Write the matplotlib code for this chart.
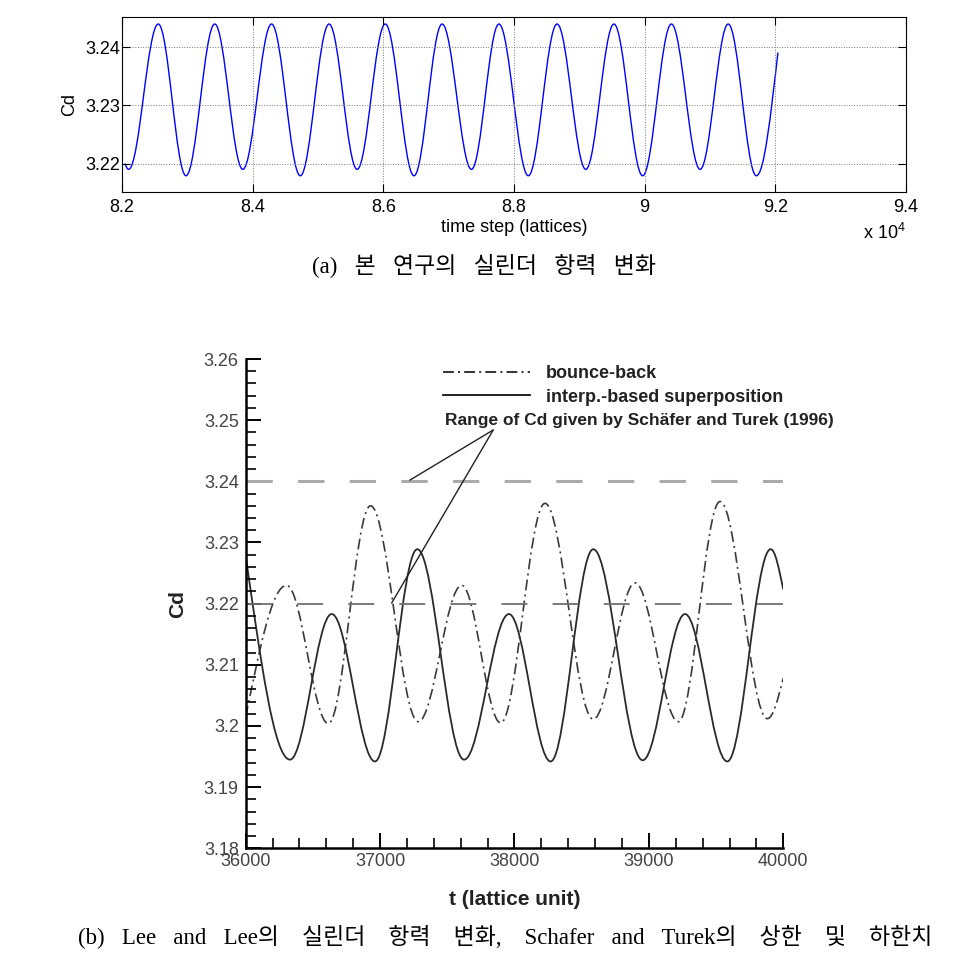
import matplotlib
matplotlib.use('Agg')
import matplotlib.pyplot as plt
from matplotlib.path import Path
from matplotlib.patches import PathPatch
from matplotlib.lines import Line2D
from matplotlib.ticker import MultipleLocator, FuncFormatter

plt.rcParams['font.family'] = ['Liberation Sans', 'DejaVu Sans']
plt.rcParams['mathtext.fontset'] = 'custom'
plt.rcParams['mathtext.rm'] = 'Liberation Sans'

# (a) present study: start point, alternating troughs / peaks, end point
top_t = [82045, 82102, 82556, 82980, 83420, 83850, 84290, 84730, 85170, 85600,
         86030, 86470, 86900, 87350, 87770, 88220, 88660, 89100, 89530, 89970,
         90410, 90850, 91280, 91710, 92041]
top_cd = [3.2200, 3.2190, 3.2440, 3.2179, 3.2440, 3.2190, 3.2440, 3.2179, 3.2440, 3.2190,
          3.2440, 3.2179, 3.2440, 3.2190, 3.2440, 3.2179, 3.2440, 3.2190, 3.2440, 3.2179,
          3.2440, 3.2190, 3.2440, 3.2179, 3.2391]
top_xticks = [82000, 84000, 86000, 88000, 90000, 92000, 94000]
top_yticks = [3.22, 3.23, 3.24]

# (b) Lee and Lee
bb_t = [36000, 36305, 36615, 36929, 37284, 37607, 37897, 38227, 38586, 38897,
        39219, 39529, 39881, 40000]
bb_cd = [3.2015, 3.2230, 3.2004, 3.2360, 3.2007, 3.2230, 3.2005, 3.2364, 3.2011, 3.2234,
         3.2007, 3.2367, 3.2012, 3.2078]
ip_t = [36000, 36330, 36640, 36962, 37277, 37625, 37959, 38269, 38586, 38954,
        39269, 39583, 39906, 40000]
ip_cd = [3.2278, 3.1945, 3.2183, 3.1942, 3.2289, 3.1945, 3.2183, 3.1942, 3.2289, 3.1944,
         3.2183, 3.1942, 3.2289, 3.2223]
cd_upper = 3.24
cd_lower = 3.22
note_from = (37842, 3.2484)
note_to = [(37222, 3.2402), (37086, 3.2201)]
note_text_pos = (37483, 3.2500)


def wave_path(xs, ys, k=0.364):
    # smooth curve through the read extrema (horizontal tangents at peaks/troughs)
    verts = [(xs[0], ys[0])]
    codes = [Path.MOVETO]
    n = len(xs)
    for i in range(n - 1):
        x0, y0, x1, y1 = xs[i], ys[i], xs[i + 1], ys[i + 1]
        dx = x1 - x0
        if i == 0:
            c1 = (x0 + dx / 3, y0 + (y1 - y0) / 2)
        else:
            c1 = (x0 + k * dx, y0)
        if i == n - 2:
            c2 = (x1 - dx / 3, y1 - (y1 - y0) / 2)
        else:
            c2 = (x1 - k * dx, y1)
        verts += [c1, c2, (x1, y1)]
        codes += [Path.CURVE4] * 3
    return Path(verts, codes)


fig = plt.figure(figsize=(9.68, 9.63), dpi=100)

# ---- (a)
ax1 = fig.add_axes([0.1260, 0.8006, 0.8099, 0.1817])
ax1.add_patch(PathPatch(wave_path(top_t, top_cd), fill=False, edgecolor='#0000ff', lw=1.0))
ax1.set_xlim(82000, 94000)
ax1.set_ylim(3.2151, 3.2452)
ax1.set_xticks(top_xticks)
ax1.set_yticks(top_yticks)
ax1.xaxis.set_major_formatter(FuncFormatter(lambda v, p: f'{v / 1e4:g}'))
ax1.yaxis.set_major_formatter(FuncFormatter(lambda v, p: f'{v:.2f}'))
ax1.grid(True, ls=':', color='#777777', lw=0.7)
ax1.tick_params(direction='in', top=True, right=True, length=6, width=0.8, labelsize=13)
ax1.tick_params(axis='x', pad=5)
ax1.tick_params(axis='y', pad=1.5)
for s in ax1.spines.values():
    s.set_linewidth(0.8)
ax1.set_ylabel('Cd', fontsize=13, labelpad=5)
ax1.set_xlabel('time step (lattices)', fontsize=13, labelpad=2)
fig.text(906 / 968, 1 - 233 / 963, r'x 10$^{4}$', ha='right', va='center', fontsize=13)

fig.text(484 / 968, 1 - 265 / 963, '(a)   본   연구의   실린더   항력   변화', ha='center', va='center',
         fontsize=16.5, family=['Liberation Serif', 'Noto Sans CJK KR'])

# ---- (b)
ax2 = fig.add_axes([0.2538, 0.1191, 0.5554, 0.5081])
ax2.axhline(cd_upper, color='#aaaaaa', lw=2.2, ls=(0, (8.6, 8.3)))
ax2.axhline(cd_lower, color='#707070', lw=1.3, ls=(0, (14.4, 13.9)))
ax2.add_patch(PathPatch(wave_path(bb_t, bb_cd), fill=False, edgecolor='#3a3a3a', lw=1.2,
                        ls=(0, (6.5, 2.5, 1.2, 2.5))))
ax2.add_patch(PathPatch(wave_path(ip_t, ip_cd), fill=False, edgecolor='#2a2a2a', lw=1.3))
ax2.set_xlim(36000, 40000)
ax2.set_ylim(3.18, 3.26)
ax2.xaxis.set_major_locator(MultipleLocator(1000))
ax2.xaxis.set_minor_locator(MultipleLocator(200))
ax2.yaxis.set_major_locator(MultipleLocator(0.01))
ax2.yaxis.set_minor_locator(MultipleLocator(0.002))
ax2.xaxis.set_major_formatter(FuncFormatter(lambda v, p: f'{v:.0f}'))
ax2.yaxis.set_major_formatter(FuncFormatter(lambda v, p: f'{round(v, 2):g}'))
ax2.spines['top'].set_visible(False)
ax2.spines['right'].set_visible(False)
ax2.spines['left'].set_linewidth(1.8)
ax2.spines['bottom'].set_linewidth(1.8)
ax2.tick_params(which='major', direction='in', length=10.5, width=1.4, labelsize=13,
                labelcolor='#444444')
ax2.tick_params(which='minor', direction='in', length=7, width=1.2)
ax2.tick_params(axis='x', which='major', pad=3.5)
ax2.tick_params(axis='y', which='major', pad=5)
ax2.set_ylabel('Cd', fontsize=15, fontweight='bold', labelpad=12, color='#222222')
ax2.set_xlabel('t (lattice unit)', fontsize=15, fontweight='bold', labelpad=14, color='#222222')

handles = [Line2D([], [], color='#111111', lw=1.2, ls=(0, (6.5, 2.5, 1.2, 2.5))),
           Line2D([], [], color='#111111', lw=1.3)]
leg = ax2.legend(handles, ['bounce-back', 'interp.-based superposition'], loc='upper left',
                 bbox_to_anchor=(0.367, 0.987), frameon=False,
                 prop={'size': 13, 'weight': 'bold'}, handlelength=4.83,
                 handletextpad=0.89, borderpad=0, borderaxespad=0, labelspacing=0.35)
for t in leg.get_texts():
    t.set_color('#222222')

ax2.text(note_text_pos[0], note_text_pos[1], 'Range of Cd given by Schäfer and Turek (1996)',
         ha='left', va='center', fontsize=12.5, fontweight='bold', color='#222222')
for end in note_to:
    ax2.annotate('', xy=end, xytext=note_from,
                 arrowprops=dict(arrowstyle='-', color='#222222', lw=1.0, shrinkA=0, shrinkB=0))

fig.text(505 / 968, 1 - 937 / 963,
         '(b)   Lee   and   Lee의    실린더    항력    변화,    Schafer   and   Turek의    상한    및    하한치',
         ha='center', va='center', fontsize=16.5, family=['Liberation Serif', 'Noto Sans CJK KR'])

fig.savefig('out.png', dpi=100)
